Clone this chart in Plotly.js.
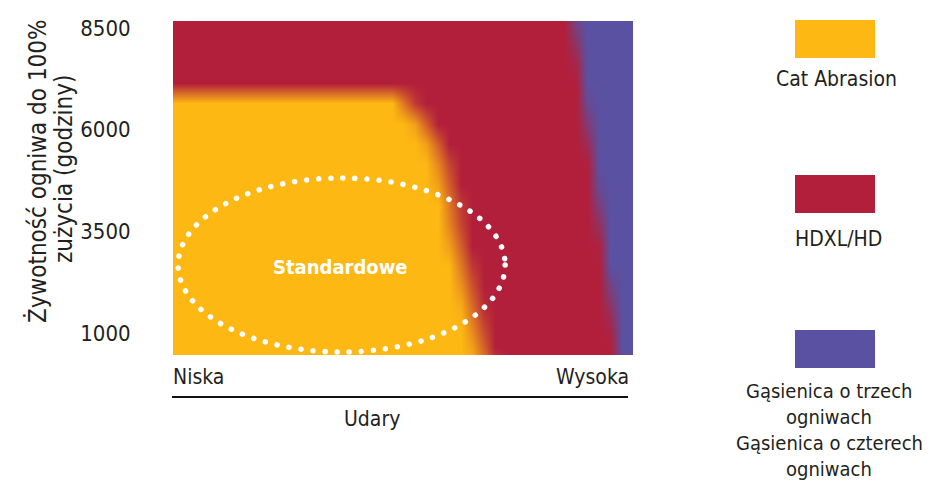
<!DOCTYPE html>
<html>
<head>
<meta charset="utf-8">
<script src="https://cdn.plot.ly/plotly-3.0.1.min.js"></script>
<style>html,body{margin:0;padding:0;background:#fff;}</style>
</head>
<body>
<div id="chart" style="width:931px;height:497px;"></div>
<script>
// ---- Data ----
// Tick labels
const yTickVals = [1000, 3500, 6000, 8500];
const yTickText = ['1000', '3500', '6000', '8500'];
const xLowLabel = 'Niska';
const xHighLabel = 'Wysoka';
const xTitle = 'Udary';
const yTitleLine1 = 'Żywotność ogniwa do 100%';
const yTitleLine2 = 'zużycia (godziny)';
const ellipseLabel = 'Standardowe';

// Region boundaries (hours rows, impact % where yellow ends / blue starts)
const rowHours    = [150, 650, 1150, 1650, 2150, 2650, 3150, 3650, 4150, 4650, 5150, 5650, 6150, 6650, 7150, 7650, 8150, 8650, 9150];
const yellowEdge  = [68.5, 67, 66, 65, 64, 63, 62, 61, 60.5, 59.5, 58.5, 57, 54.5, 50.5, -100, -100, -100, -100, -100];
const blueEdge    = [96.9, 96.3, 95.7, 95.2, 94.6, 94.0, 93.4, 92.8, 92.2, 91.7, 91.1, 90.5, 89.9, 89.3, 88.7, 88.2, 87.6, 87.0, 86.4];

// Legend
const legendNames = ['Cat Abrasion', 'HDXL/HD', 'Gąsienica o trzech|ogniwach|Gąsienica o czterech|ogniwach'];
const regionColors = ['#FDB813', '#B21F3B', '#5A51A2'];

// "Standardowe" zone (impact %, hours)
const zoneX = [1.1, 72.2];
const zoneY = [534, 4813];
const zoneLabelPos = [36.3, 2624];

// ---- Build heatmap table from boundaries ----
const FONT = '"Liberation Sans Narrow", "DejaVu Sans Condensed", "Arial Narrow", sans-serif';
const xCols = [];
for (let x = 0; x <= 100.001; x += 2.5) xCols.push(x);
const YR = 6, BR = 2; // ramp widths (soft edges)
const clamp = v => Math.max(0, Math.min(1, v));
const z = rowHours.map((h, r) => xCols.map(x =>
  clamp((x - yellowEdge[r]) / YR + 0.5) + clamp((x - blueEdge[r]) / BR + 0.5)));

const heat = {
  type: 'heatmap', x: xCols, y: rowHours, z: z,
  zmin: 0, zmax: 2, zsmooth: 'best', showscale: false, hoverinfo: 'skip',
  colorscale: [[0, regionColors[0]], [0.5, regionColors[1]], [1, regionColors[2]]]
};

// ---- Layout helpers (pixel -> paper) ----
const PL = 173, PR = 633, PT = 21, PB = 355;
const px = v => (v - PL) / (PR - PL);
const py = v => (PB - v) / (PB - PT);
const TXT = '#231f20';
const FS = 21;

const annotations = [
  {text: xLowLabel, xref: 'paper', yref: 'paper', x: px(171), y: py(377), xanchor: 'left', yanchor: 'middle', showarrow: false, font: {family: FONT, size: FS, color: TXT}},
  {text: xHighLabel, xref: 'paper', yref: 'paper', x: px(631), y: py(377), xanchor: 'right', yanchor: 'middle', showarrow: false, font: {family: FONT, size: FS, color: TXT}},
  {text: xTitle, xref: 'paper', yref: 'paper', x: px(372), y: py(419), xanchor: 'center', yanchor: 'middle', showarrow: false, font: {family: FONT, size: FS, color: TXT}},
  {text: yTitleLine1, xref: 'paper', yref: 'paper', x: px(37), y: py(171), xanchor: 'center', yanchor: 'middle', textangle: -90, showarrow: false, font: {family: FONT, size: 24, color: TXT}},
  {text: yTitleLine2, xref: 'paper', yref: 'paper', x: px(64), y: py(169), xanchor: 'center', yanchor: 'middle', textangle: -90, showarrow: false, font: {family: FONT, size: 24, color: TXT}},
  {text: '<b>' + ellipseLabel + '</b>', xref: 'x', yref: 'y', x: zoneLabelPos[0], y: zoneLabelPos[1], xanchor: 'center', yanchor: 'middle', showarrow: false, font: {family: FONT, size: 20, color: '#ffffff'}}
];

const shapes = [
  {type: 'circle', xref: 'x', yref: 'y', x0: zoneX[0], x1: zoneX[1], y0: zoneY[0], y1: zoneY[1], line: {color: '#ffffff', width: 5.5, dash: '1px,11px'}},
  {type: 'line', xref: 'paper', yref: 'paper', x0: px(172), x1: px(628), y0: py(397), y1: py(397), line: {color: '#111', width: 2}}
];

// Legend swatches and labels
const swatchTop = [20, 175, 330];
const labelLines = [[79], [239], [391, 417, 443, 469]];
const labelCenter = [836, 838, 829];
legendNames.forEach((name, i) => {
  shapes.push({type: 'rect', xref: 'paper', yref: 'paper', x0: px(795), x1: px(875), y0: py(swatchTop[i] + 38), y1: py(swatchTop[i]), fillcolor: regionColors[i], line: {width: 0}});
  name.split('|').forEach((t, k) => {
    annotations.push({text: t, xref: 'paper', yref: 'paper', x: px(labelCenter[i]), y: py(labelLines[i][k]), xanchor: 'center', yanchor: 'middle', showarrow: false, font: {family: FONT, size: i === 2 ? 20 : FS, color: TXT}});
  });
});

const layout = {
  width: 931, height: 497,
  margin: {l: PL, r: 931 - PR, t: PT, b: 497 - PB, pad: 0},
  paper_bgcolor: '#ffffff', plot_bgcolor: '#ffffff',
  showlegend: false,
  xaxis: {range: [0, 100], showgrid: false, zeroline: false, showline: false, showticklabels: false, ticks: '', fixedrange: true},
  yaxis: {range: [460, 8674], showgrid: false, zeroline: false, showline: false,
          tickmode: 'array', tickvals: yTickVals, ticktext: yTickText,
          ticks: 'outside', ticklen: 37, tickcolor: 'rgba(0,0,0,0)',
          tickfont: {family: FONT, size: 22, color: TXT}, fixedrange: true},
  annotations: annotations,
  shapes: shapes
};

Plotly.newPlot('chart', [heat], layout, {displayModeBar: false, staticPlot: true}).then(() => {
  document.querySelectorAll('.shapelayer path').forEach(p => {
    if (p.getAttribute('data-index') === '0') {
      p.style.setProperty('stroke-linecap', 'round');
      p.style.setProperty('stroke-dasharray', '0.1px, 12px');
    }
  });
});
</script>
</body>
</html>
